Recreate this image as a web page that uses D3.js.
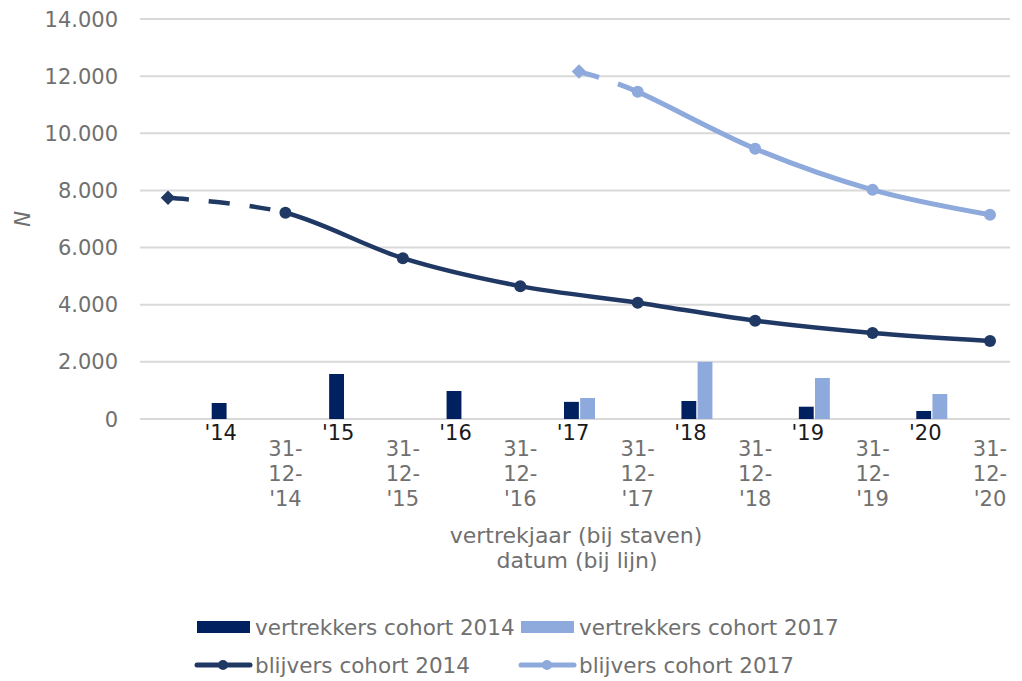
<!DOCTYPE html>
<html>
<head>
<meta charset="utf-8">
<script src="https://cdn.jsdelivr.net/npm/d3@7"></script>
<style>
    body { margin: 0; background: #fff; }
    svg text { font-family: "DejaVu Sans", Verdana, sans-serif; }
</style>
</head>
<body>
<div id="chart"></div>
<script>
(function () {
    const width = 1022;
    const height = 681;
    const margin = { top: 19, right: 12, bottom: 262, left: 140 };

    // x slots: bar years alternate with end-of-year dates
    const xSlots = ["", "'14", "31-12-'14", "'15", "31-12-'15", "'16", "31-12-'16",
        "'17", "31-12-'17", "'18", "31-12-'18", "'19", "31-12-'19", "'20", "31-12-'20"];

    const barYears = ["'14", "'15", "'16", "'17", "'18", "'19", "'20"];
    const vertrekkers2014 = [560, 1575, 980, 600, 630, 430, 280];
    const vertrekkers2017 = [0, 0, 0, 735, 2000, 1435, 875];

    const blijvers2014Dates = ["", "31-12-'14", "31-12-'15", "31-12-'16", "31-12-'17", "31-12-'18", "31-12-'19", "31-12-'20"];
    const blijvers2014 = [7740, 7220, 5630, 4650, 4070, 3440, 3010, 2730];

    const blijvers2017Dates = ["'17", "31-12-'17", "31-12-'18", "31-12-'19", "31-12-'20"];
    const blijvers2017 = [12160, 11450, 9460, 8020, 7150];

    const yTicks = [0, 2000, 4000, 6000, 8000, 10000, 12000, 14000];

    const darkBar = "#002060";
    const lightBar = "#8EA9DB";
    const darkLine = "#203864";
    const lightLine = "#8EA9DB";
    const textGrey = "#707070";

    const svg = d3.select("#chart")
        .append("svg")
        .attr("width", width)
        .attr("height", height);

    const x = d3.scalePoint()
        .domain(xSlots)
        .range([168, 990]);

    const y = d3.scaleLinear()
        .domain([0, 14000])
        .range([height - margin.bottom, margin.top]);

    const fmt = v => d3.format(",")(v).replace(/,/g, ".");

    // grid
    svg.append("g")
        .selectAll("line")
        .data(yTicks)
        .join("line")
        .attr("x1", margin.left)
        .attr("x2", width - margin.right)
        .attr("y1", d => y(d))
        .attr("y2", d => y(d))
        .style("stroke", "#d9d9d9")
        .style("stroke-width", 2);

    // y axis labels
    svg.append("g")
        .selectAll("text")
        .data(yTicks)
        .join("text")
        .attr("x", 118)
        .attr("y", d => y(d))
        .attr("dy", "0.36em")
        .attr("text-anchor", "end")
        .style("font-size", "21px")
        .style("fill", textGrey)
        .text(d => fmt(d));

    svg.append("text")
        .attr("transform", `translate(22, ${y(7000)}) rotate(-90)`)
        .attr("text-anchor", "middle")
        .attr("dy", "0.36em")
        .style("font-size", "21px")
        .style("font-style", "italic")
        .style("fill", textGrey)
        .text("N");

    // bars
    const inner = d3.scaleBand()
        .domain(["c2014", "c2017"])
        .range([-15, 16])
        .paddingInner(0.08);

    const barRows = barYears.map((k, i) => ({ key: k, c2014: vertrekkers2014[i], c2017: vertrekkers2017[i] }));

    const barG = svg.append("g");
    barG.selectAll("rect.b14")
        .data(barRows)
        .join("rect")
        .attr("class", "b14")
        .attr("x", d => x(d.key) + inner("c2014"))
        .attr("width", inner.bandwidth())
        .attr("y", d => y(d.c2014))
        .attr("height", d => y(0) - y(d.c2014))
        .style("fill", darkBar);

    barG.selectAll("rect.b17")
        .data(barRows.filter(d => d.c2017 > 0))
        .join("rect")
        .attr("class", "b17")
        .attr("x", d => x(d.key) + inner("c2017"))
        .attr("width", inner.bandwidth())
        .attr("y", d => y(d.c2017))
        .attr("height", d => y(0) - y(d.c2017))
        .style("fill", lightBar);

    // x axis labels
    const xl = svg.append("g");
    xl.selectAll("text.yr")
        .data(barYears)
        .join("text")
        .attr("class", "yr")
        .attr("x", d => x(d) - 6)
        .attr("y", 432)
        .attr("dy", "0.36em")
        .attr("text-anchor", "middle")
        .style("font-size", "21px")
        .style("fill", "#1a1a1a")
        .text(d => d);

    const dateLabels = xSlots.filter(d => d.startsWith("31"));
    const dl = xl.selectAll("text.dt")
        .data(dateLabels)
        .join("text")
        .attr("class", "dt")
        .attr("text-anchor", "middle")
        .style("font-size", "21px")
        .style("fill", textGrey);
    dl.each(function (d) {
        const parts = d.split("-");
        const lines = [parts[0] + "-", parts[1] + "-", parts[2]];
        d3.select(this).selectAll("tspan")
            .data(lines)
            .join("tspan")
            .attr("x", x(d))
            .attr("y", (t, i) => 448 + i * 25)
            .attr("dy", "0.36em")
            .text(t => t);
    });

    svg.append("text")
        .attr("x", 576)
        .attr("y", 535)
        .attr("dy", "0.36em")
        .attr("text-anchor", "middle")
        .style("font-size", "22px")
        .style("fill", textGrey)
        .text("vertrekjaar (bij staven)");
    svg.append("text")
        .attr("x", 577)
        .attr("y", 560)
        .attr("dy", "0.36em")
        .attr("text-anchor", "middle")
        .style("font-size", "22px")
        .style("fill", textGrey)
        .text("datum (bij lijn)");

    // lines: one smoothed path per series, first segment dashed
    const line = d3.line()
        .x(d => x(d.key))
        .y(d => y(d.v))
        .curve(d3.curveCardinal.tension(0));

    function drawSeries(id, keys, values, color, w) {
        const pts = keys.map((k, i) => ({ key: k, v: values[i] }));
        const split = x(pts[1].key);

        const defs = svg.append("defs");
        defs.append("clipPath").attr("id", id + "-a")
            .append("rect").attr("x", 0).attr("y", 0).attr("width", split).attr("height", height);
        defs.append("clipPath").attr("id", id + "-b")
            .append("rect").attr("x", split).attr("y", 0).attr("width", width - split).attr("height", height);

        const g = svg.append("g");
        g.append("path")
            .datum(pts)
            .attr("d", line)
            .attr("clip-path", `url(#${id}-a)`)
            .style("fill", "none")
            .style("stroke", color)
            .style("stroke-width", w)
            .style("stroke-dasharray", "21,20");
        g.append("path")
            .datum(pts)
            .attr("d", line)
            .attr("clip-path", `url(#${id}-b)`)
            .style("fill", "none")
            .style("stroke", color)
            .style("stroke-width", w)
            .style("stroke-linejoin", "round");
        g.append("path")
            .attr("d", d3.symbol(d3.symbolSquare, 105)())
            .attr("transform", `translate(${x(pts[0].key)}, ${y(pts[0].v)}) rotate(45)`)
            .style("fill", color);
        g.selectAll("circle")
            .data(pts.slice(1))
            .join("circle")
            .attr("cx", d => x(d.key))
            .attr("cy", d => y(d.v))
            .attr("r", 6)
            .style("fill", color);
    }

    drawSeries("b14", blijvers2014Dates, blijvers2014, darkLine, 4.5);
    drawSeries("b17", blijvers2017Dates, blijvers2017, lightLine, 5);

    // legend
    const legend = svg.append("g").style("font-size", "21.5px");
    const legItems = [
        { label: "vertrekkers cohort 2014", color: darkBar, type: "bar", lx: 197, ly: 627 },
        { label: "vertrekkers cohort 2017", color: lightBar, type: "bar", lx: 521, ly: 627 },
        { label: "blijvers cohort 2014", color: darkLine, type: "line", lx: 197, ly: 665 },
        { label: "blijvers cohort 2017", color: lightLine, type: "line", lx: 521, ly: 665 }
    ];
    legItems.forEach(d => {
        if (d.type === "bar") {
            legend.append("rect")
                .attr("x", d.lx)
                .attr("y", d.ly - 6)
                .attr("width", 53)
                .attr("height", 12)
                .style("fill", d.color);
        } else {
            legend.append("line")
                .attr("x1", d.lx)
                .attr("x2", d.lx + 53)
                .attr("y1", d.ly)
                .attr("y2", d.ly)
                .style("stroke", d.color)
                .style("stroke-width", 5)
                .style("stroke-linecap", "round");
            legend.append("circle")
                .attr("cx", d.lx + 26)
                .attr("cy", d.ly)
                .attr("r", 5)
                .style("fill", d.color);
        }
        legend.append("text")
            .attr("x", d.lx + 58)
            .attr("y", d.ly)
            .attr("dy", "0.36em")
            .style("fill", textGrey)
            .text(d.label);
    });
})();
</script>
</body>
</html>
